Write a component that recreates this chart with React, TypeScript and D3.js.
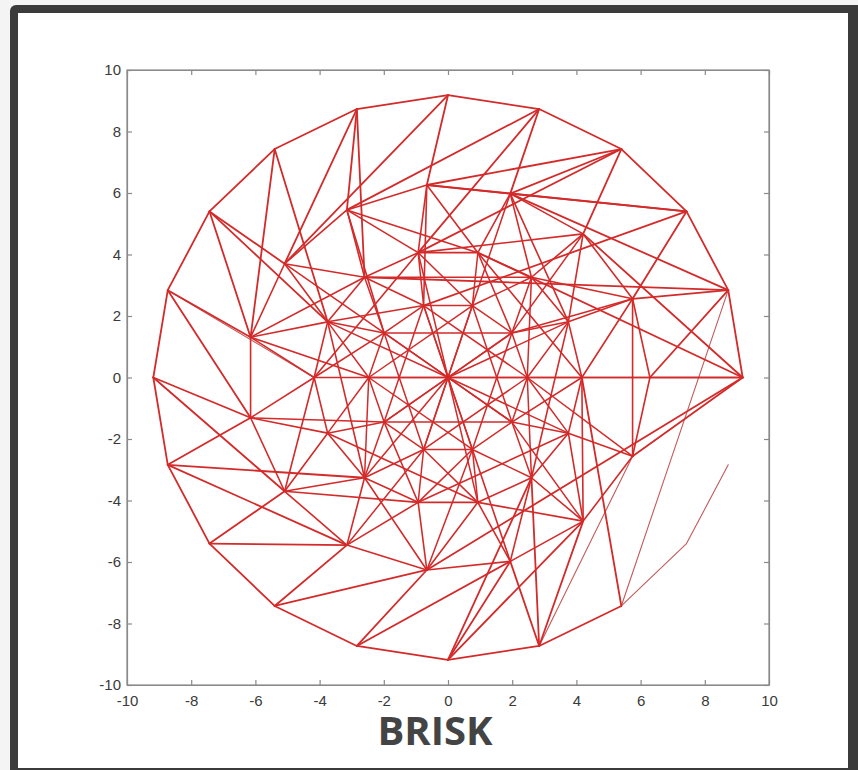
import React, { useEffect, useRef } from "react";
import * as d3 from "d3";

const svgWidth = 858;
const svgHeight = 770;
const plotLeft = 127;
const plotRight = 769;
const plotTop = 70;
const plotBottom = 685;

// sampling points, ring by ring (innermost first)
const ringA: [number, number][] = [
  [2.47, 0], [1.99, 1.45], [0.76, 2.34], [-0.76, 2.34], [-1.99, 1.45],
  [-2.47, 0], [-1.99, -1.45], [-0.76, -2.34], [0.76, -2.34], [1.99, -1.45],
];
const ringB: [number, number][] = [
  [4.17, 0], [3.75, 1.81], [2.6, 3.26], [0.93, 4.06], [-0.93, 4.06],
  [-2.6, 3.26], [-3.75, 1.81], [-4.17, 0], [-3.75, -1.81], [-2.6, -3.26],
  [-0.93, -4.06], [0.93, -4.06], [2.6, -3.26], [3.75, -1.81],
];
const ringD: [number, number][] = [
  [6.29, 0], [5.75, 2.56], [4.21, 4.67], [1.94, 5.98], [-0.66, 6.26],
  [-3.15, 5.45], [-5.09, 3.7], [-6.15, 1.31], [-6.15, -1.31], [-5.09, -3.7],
  [-3.15, -5.45], [-0.66, -6.26], [1.94, -5.98], [4.21, -4.67], [5.75, -2.56],
];
const ringE: [number, number][] = [
  [9.18, 0], [8.73, 2.84], [7.43, 5.4], [5.4, 7.43], [2.84, 8.73],
  [0, 9.18], [-2.84, 8.73], [-5.4, 7.43], [-7.43, 5.4], [-8.73, 2.84],
  [-9.18, 0], [-8.73, -2.84], [-7.43, -5.4], [-5.4, -7.43], [-2.84, -8.73],
  [0, -9.18], [2.84, -8.73], [5.4, -7.43], [7.43, -5.4], [8.73, -2.84],
];
const centerPoint: [number, number] = [0, 0];

// segments between points (C = centre, A/B/D/E = rings)
const outerPairs: [string, string][] = [
  ["E0", "E1"], ["E1", "E2"], ["E2", "E3"], ["E3", "E4"], ["E4", "E5"], ["E5", "E6"],
  ["E6", "E7"], ["E7", "E8"], ["E8", "E9"], ["E9", "E10"], ["E10", "E11"], ["E11", "E12"],
  ["E12", "E13"], ["E13", "E14"], ["E14", "E15"], ["E15", "E16"], ["E16", "E17"],
  ["E0", "D0"], ["E0", "D14"], ["E0", "D11"], ["E0", "B3"], ["E0", "D2"],
  ["E1", "D0"], ["E1", "D1"], ["E1", "D3"], ["E1", "B5"],
  ["E2", "D1"], ["E2", "D3"], ["E2", "D4"], ["E2", "A3"],
  ["E3", "D2"], ["E3", "D3"], ["E3", "D4"], ["E3", "B4"],
  ["E4", "D3"], ["E4", "D5"], ["E4", "B4"],
  ["E5", "D4"], ["E5", "D6"],
  ["E6", "D5"], ["E6", "D6"], ["E6", "B5"],
  ["E7", "D7"], ["E7", "B6"],
  ["E8", "D6"], ["E8", "D7"], ["E8", "B6"],
  ["E9", "D7"], ["E9", "D8"],
  ["E10", "D8"], ["E10", "D9"],
  ["E11", "D8"], ["E11", "D10"], ["E11", "B9"],
  ["E12", "D9"], ["E12", "D10"],
  ["E13", "D10"], ["E13", "D11"],
  ["E14", "D11"], ["E14", "D12"],
  ["E15", "D12"], ["E15", "D13"], ["E15", "B12"],
  ["E16", "B12"], ["E16", "D13"], ["E16", "D12"],
  ["E17", "B0"],
];
const middlePairs: [string, string][] = [
  ["D0", "D1"], ["D1", "D2"], ["D2", "D3"], ["D3", "D4"], ["D4", "D5"], ["D5", "D6"],
  ["D6", "D7"], ["D7", "D8"], ["D8", "D9"], ["D9", "D10"], ["D10", "D11"], ["D11", "D12"],
  ["D12", "D13"], ["D13", "D14"], ["D14", "D0"], ["D1", "D14"], ["D13", "B0"], ["D2", "B4"],
  ["B0", "D0"], ["B0", "D1"], ["B1", "D1"], ["B1", "D2"], ["B2", "D2"], ["B2", "D3"],
  ["B3", "D3"], ["B3", "D4"], ["B4", "D4"], ["B4", "D5"], ["B5", "D5"], ["B5", "D6"],
  ["B6", "D6"], ["B6", "D7"], ["B7", "D7"], ["B7", "D8"], ["B8", "D8"], ["B8", "D9"],
  ["B9", "D9"], ["B9", "D10"], ["B10", "D10"], ["B10", "D11"], ["B11", "D11"], ["B11", "D12"],
  ["B12", "D12"], ["B12", "D13"], ["B13", "D13"], ["B13", "D14"], ["B2", "D1"], ["D9", "B10"],
  ["D3", "B1"], ["D5", "B3"], ["D7", "B5"], ["D9", "B7"], ["D11", "B9"], ["D13", "B11"],
  ["D0", "A0"], ["D1", "A1"], ["D4", "A3"], ["D5", "A4"], ["D7", "A5"], ["D12", "A8"],
  ["B0", "B1"], ["B1", "B2"], ["B2", "B3"], ["B3", "B4"], ["B4", "B5"], ["B5", "B6"],
  ["B6", "B7"], ["B7", "B8"], ["B8", "B9"], ["B9", "B10"], ["B10", "B11"], ["B11", "B12"],
  ["B12", "B13"], ["B13", "B0"],
  ["B0", "B3"], ["B2", "B5"], ["B4", "B7"], ["B6", "B9"], ["B8", "B11"], ["B10", "B13"], ["B12", "B1"],
];
const innerPairs: [string, string][] = [
  ["A0", "B0"], ["A0", "B1"], ["A0", "B13"], ["A1", "B1"], ["A1", "B2"], ["A2", "B2"],
  ["A2", "B3"], ["A3", "B4"], ["A3", "B5"], ["A4", "B5"], ["A4", "B6"], ["A5", "B6"],
  ["A5", "B7"], ["A5", "B8"], ["A6", "B8"], ["A6", "B9"], ["A7", "B9"], ["A7", "B10"],
  ["A8", "B10"], ["A8", "B11"], ["A9", "B12"], ["A9", "B13"],
  ["A0", "B2"], ["A1", "B3"], ["A2", "B4"], ["A3", "B6"], ["A4", "B7"], ["A5", "B9"],
  ["A6", "B10"], ["A7", "B11"], ["A8", "B12"], ["A9", "B0"],
  ["A0", "D14"], ["A1", "D2"], ["A2", "D3"], ["A4", "D6"], ["A6", "D8"], ["A7", "D10"],
  ["A8", "D11"], ["A9", "D13"], ["A0", "B12"],
  ["A0", "A1"], ["A1", "A2"], ["A2", "A3"], ["A3", "A4"], ["A4", "A5"], ["A5", "A6"],
  ["A6", "A7"], ["A7", "A8"], ["A8", "A9"], ["A9", "A0"],
  ["A0", "A3"], ["A1", "A4"], ["A2", "A5"], ["A3", "A6"], ["A4", "A7"], ["A5", "A8"],
  ["A6", "A9"], ["A7", "A0"], ["A8", "A1"], ["A9", "A2"],
  ["A0", "A5"], ["A1", "A6"], ["A2", "A7"], ["A3", "A8"], ["A4", "A9"],
  ["C", "A0"], ["C", "A1"], ["C", "A2"], ["C", "A3"], ["C", "A4"], ["C", "A5"],
  ["C", "A6"], ["C", "A7"], ["C", "A8"], ["C", "A9"],
  ["C", "B1"], ["C", "B4"], ["C", "B6"], ["C", "B9"], ["C", "B11"], ["C", "B13"],
];
const faintPairs: [string, string][] = [
  ["E17", "E18"], ["E18", "E19"], ["E9", "B7"], ["E1", "E17"], ["E16", "D14"],
];

const tickValues = [-10, -8, -6, -4, -2, 0, 2, 4, 6, 8, 10];

const rings: Record<string, [number, number][]> = { A: ringA, B: ringB, D: ringD, E: ringE };

function lookup(label: string): [number, number] {
  if (label === "C") return centerPoint;
  return rings[label[0]][+label.slice(1)];
}

export default function App() {
  const svgRef = useRef<SVGSVGElement>(null);

  const xScale = d3.scaleLinear().domain([-10, 10]).range([plotLeft, plotRight]);
  const yScale = d3.scaleLinear().domain([-10, 10]).range([plotBottom, plotTop]);

  useEffect(() => {
    const svg = d3.select(svgRef.current);
    const label = (d: d3.NumberValue) => String(d);

    const xAxis = d3.axisBottom(xScale).tickValues(tickValues).tickSize(-5).tickSizeOuter(0).tickPadding(10).tickFormat(label);
    const xTop = d3.axisTop(xScale).tickValues(tickValues).tickSize(-5).tickSizeOuter(0).tickFormat(() => "");
    const yAxis = d3.axisLeft(yScale).tickValues(tickValues).tickSize(-5).tickSizeOuter(0).tickPadding(6).tickFormat(label);
    const yRight = d3.axisRight(yScale).tickValues(tickValues).tickSize(-5).tickSizeOuter(0).tickFormat(() => "");

    svg.select<SVGGElement>(".x-axis").attr("transform", `translate(0,${plotBottom})`).call(xAxis);
    svg.select<SVGGElement>(".x-top").attr("transform", `translate(0,${plotTop})`).call(xTop);
    svg.select<SVGGElement>(".y-axis").attr("transform", `translate(${plotLeft},0)`).call(yAxis);
    svg.select<SVGGElement>(".y-right").attr("transform", `translate(${plotRight},0)`).call(yRight);

    svg.selectAll(".axis path, .axis line").attr("stroke", "#8a8a8a").attr("stroke-width", 1.2);
    svg.selectAll(".axis text")
      .attr("font-family", "Liberation Sans, Arial, sans-serif")
      .attr("font-size", 15)
      .attr("fill", "#3a3a3a");
  }, []);

  const seg = (p: [string, string], i: number, stroke: string, width: number, key: string) => {
    const a = lookup(p[0]);
    const b = lookup(p[1]);
    return (
      <line
        key={key + i}
        x1={xScale(a[0])}
        y1={yScale(a[1])}
        x2={xScale(b[0])}
        y2={yScale(b[1])}
        stroke={stroke}
        strokeWidth={width}
        strokeLinecap="round"
      />
    );
  };

  return (
    <svg
      ref={svgRef}
      width={svgWidth}
      height={svgHeight}
      style={{ position: "absolute", left: 0, top: 0, background: "#f4f4f4" }}
    >
      <rect x={10} y={5} width={860} height={780} rx={6} fill="#3b3b3b" />
      <rect x={18} y={13} width={830} height={755} fill="#ffffff" />

      <rect
        x={plotLeft}
        y={plotTop}
        width={plotRight - plotLeft}
        height={plotBottom - plotTop}
        fill="none"
        stroke="#8a8a8a"
        strokeWidth={1.2}
      />
      <g className="axis x-axis" />
      <g className="axis x-top" />
      <g className="axis y-axis" />
      <g className="axis y-right" />

      <g>
        {faintPairs.map((p, i) => seg(p, i, "#c45a5a", 1.1, "f"))}
        {outerPairs.map((p, i) => seg(p, i, "#d42a2a", 1.8, "o"))}
        {middlePairs.map((p, i) => seg(p, i, "#d42a2a", 1.6, "m"))}
        {innerPairs.map((p, i) => seg(p, i, "#d42a2a", 1.5, "i"))}
      </g>

      <text
        x={435}
        y={745}
        textAnchor="middle"
        fontFamily="Open Sans, sans-serif"
        fontWeight="bold"
        fontSize={40}
        fill="#444444"
      >
        BRISK
      </text>
    </svg>
  );
}
